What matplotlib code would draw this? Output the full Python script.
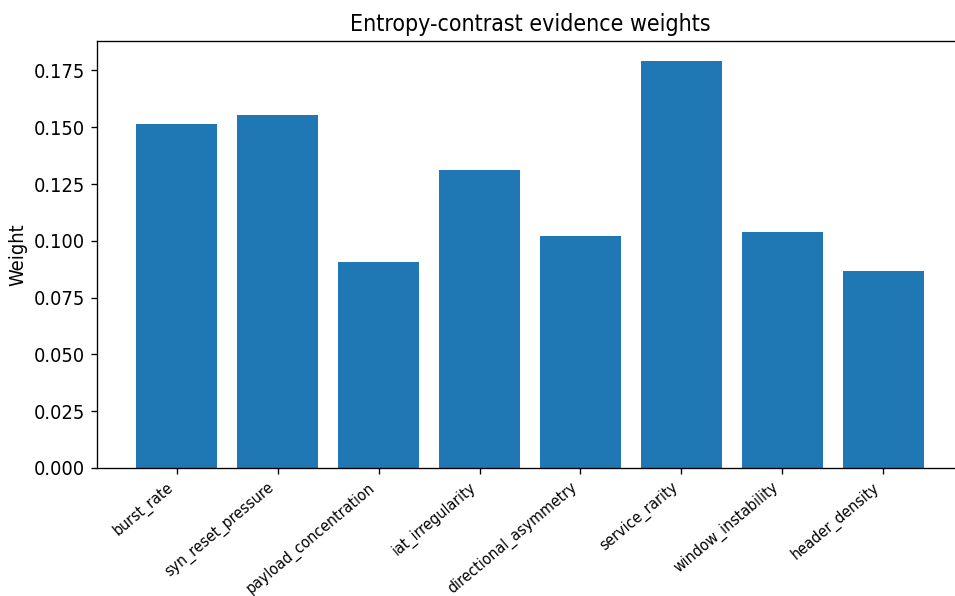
import matplotlib
matplotlib.use("Agg")
import matplotlib.pyplot as plt

features = ["burst_rate", "syn_reset_pressure", "payload_concentration",
            "iat_irregularity", "directional_asymmetry", "service_rarity",
            "window_instability", "header_density"]
weights = [0.1512, 0.1552, 0.0906, 0.1310, 0.1020, 0.1790, 0.1038, 0.0866]

# the reference text looks vertically stretched, a condensed face gets closer
plt.rcParams["font.stretch"] = "condensed"

fig = plt.figure(figsize=(955 / 120, 596 / 120), dpi=120)
# the original was cropped on the right, so the axes run past the figure edge
ax = fig.add_axes([0.1016, 0.2148, 0.9068, 0.7164])

ax.bar(range(len(features)), weights, color="#1f77b4")
ax.set_xticks(range(len(features)))
ax.set_xticklabels(features, rotation=40, ha="right", fontsize=9.5)
ax.tick_params(axis="y", labelsize=12)
ax.set_ylabel("Weight", fontsize=12)
ax.set_title("Entropy-contrast evidence weights", fontsize=13.8)

fig.savefig("out.png", dpi=120)
